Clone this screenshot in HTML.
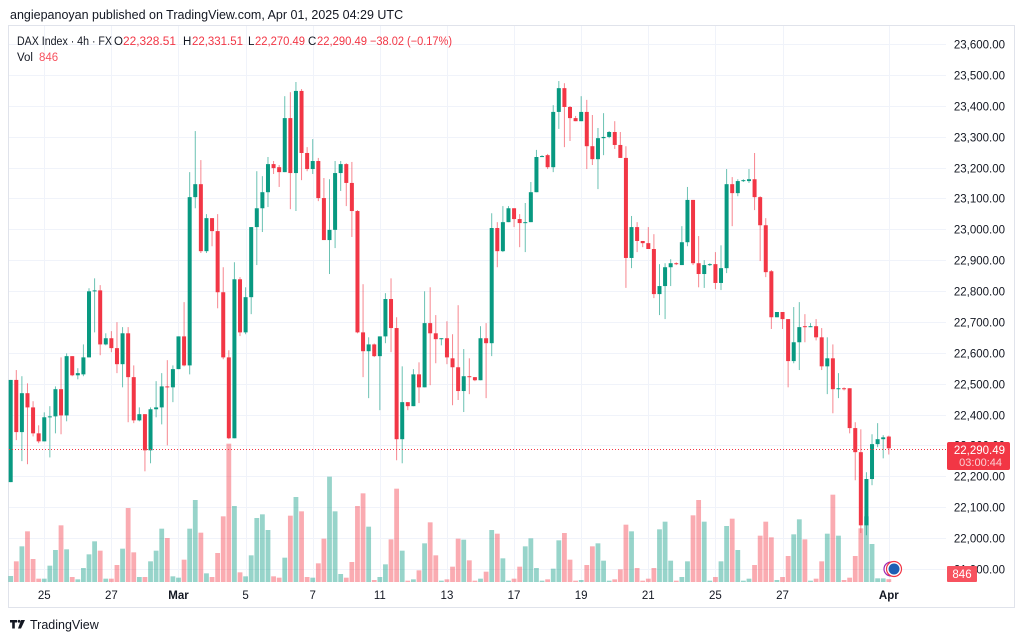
<!DOCTYPE html>
<html><head><meta charset="utf-8"><style>
html,body{margin:0;padding:0;background:#fff;}
svg{display:block;font-family:"Liberation Sans",sans-serif;}
</style></head><body>
<svg id="chart" width="1024" height="641" viewBox="0 0 1024 641" xmlns="http://www.w3.org/2000/svg">
<rect x="0" y="0" width="1024" height="641" fill="#fff"/>
<text x="10" y="19" font-size="12.5" fill="#131722">angiepanoyan published on TradingView.com, Apr 01, 2025 04:29 UTC</text>
<rect x="8.5" y="25.5" width="1006" height="582" fill="none" stroke="#e0e3eb"/>
<g id="grid"></g>
<g id="vols"></g>
<g id="candles"></g>
<line x1="9" y1="449.5" x2="946" y2="449.5" stroke="#f23645" stroke-width="1" stroke-dasharray="1,2"/>
<g id="axis"></g>
<g font-size="11.5">
<text x="17" y="45" fill="#131722" textLength="95" lengthAdjust="spacingAndGlyphs">DAX Index · 4h · FX</text>
<text x="114" y="45" fill="#131722">O</text>
<text x="123" y="45" fill="#f23645" textLength="53" lengthAdjust="spacingAndGlyphs">22,328.51</text>
<text x="183" y="45" fill="#131722">H</text>
<text x="192" y="45" fill="#f23645" textLength="51" lengthAdjust="spacingAndGlyphs">22,331.51</text>
<text x="248" y="45" fill="#131722">L</text>
<text x="255" y="45" fill="#f23645" textLength="50" lengthAdjust="spacingAndGlyphs">22,270.49</text>
<text x="308" y="45" fill="#131722">C</text>
<text x="317" y="45" fill="#f23645" textLength="50" lengthAdjust="spacingAndGlyphs">22,290.49</text>
<text x="370" y="45" fill="#f23645" textLength="82" lengthAdjust="spacingAndGlyphs">−38.02 (−0.17%)</text>
<text x="17" y="61" fill="#131722">Vol</text>
<text x="39" y="61" fill="#f7525f">846</text>
</g>
<g>
<rect x="947" y="442" width="63" height="28" rx="2" fill="#f23645"/>
<text x="1005" y="454" font-size="11.5" fill="#fff" text-anchor="end">22,290.49</text>
<text x="1002" y="466" font-size="11" fill="#fbd0d4" text-anchor="end">03:00:44</text>
</g>
<g>
<rect x="947" y="566" width="30" height="16" rx="1" fill="#f7525f"/>
<text x="962" y="578" font-size="11.5" fill="#fff" text-anchor="middle">846</text>
</g>
<g>
<circle cx="891" cy="569" r="7" fill="#fff" stroke="#9c27b0" stroke-width="1.2"/>
<circle cx="894" cy="569" r="7.5" fill="#fff" stroke="#f23645" stroke-width="1.2"/>
<circle cx="894" cy="569" r="5.5" fill="#1e5fb4"/>
</g>
<g>
<path d="M10 620 h7 v2.5 h-2.2 v6 h-2.6 v-6 h-2.2z" fill="#131722"/>
<circle cx="19" cy="621.3" r="1.4" fill="#131722"/>
<path d="M21 620 h4 l-4 8.5 h-3z" fill="#131722"/>
<text x="30" y="629" font-size="12.5" fill="#131722">TradingView</text>
</g>
</svg>
<script>
const opens=[22181,22512,22343,22469,22423,22339,22313,22391,22394,22482,22397,22589,22527,22530,22585,22799,22802,22627,22647,22615,22563,22663,22521,22381,22401,22284,22417,22423,22491,22488,22547,22653,22559,23104,23146,22929,23036,22994,22796,22585,22323,22838,22666,22780,23007,23068,23120,23211,23201,23185,23360,23182,23448,23247,23195,23221,23101,22965,22998,23182,23211,23150,23059,22666,22605,22627,22589,22653,22774,22680,22320,22440,22427,22530,22488,22696,22663,22644,22647,22582,22553,22476,22524,22521,22511,22647,22631,23004,22929,23023,23068,23033,23020,23023,23120,23234,23240,23201,23380,23457,23396,23360,23350,23380,23269,23227,23295,23299,23315,23273,23231,22907,23007,22962,22955,22936,22790,22816,22877,22890,22884,22958,23095,22890,22855,22884,22887,22826,22874,23146,23117,23156,23156,23162,23104,23013,22864,22715,22732,22709,22573,22634,22686,22683,22686,22650,22556,22582,22482,22485,22485,22356,22278,22041,22191,22304,22320,22328.51];
const highs=[22512,22544,22524,22501,22443,22365,22407,22427,22491,22585,22598,22589,22550,22627,22809,22841,22819,22663,22670,22699,22683,22683,22559,22423,22401,22423,22508,22534,22576,22559,22653,22764,23185,23318,23224,23049,23036,23049,22877,22608,22893,22845,22812,23007,23188,23172,23234,23221,23208,23431,23444,23477,23454,23266,23292,23231,23166,23162,23221,23221,23214,23218,23062,22822,22650,22630,22653,22793,22841,22715,22556,22440,22547,22569,22799,22812,22722,22647,22702,22660,22754,22612,22582,22521,22686,22696,23052,23023,23075,23075,23068,23049,23085,23153,23257,23240,23244,23402,23480,23473,23399,23367,23431,23419,23370,23328,23376,23318,23350,23315,23269,23043,23023,22962,23007,22984,22887,22890,22903,22893,23010,23137,23095,22978,22900,22890,22926,22948,23195,23169,23162,23162,23195,23247,23107,23036,22868,22732,22732,22709,22748,22764,22725,22696,22709,22680,22650,22627,22534,22488,22485,22375,22352,22213,22336,22372,22333,22331.51];
const lows=[22181,22317,22249,22239,22329,22307,22313,22261,22339,22336,22378,22524,22514,22524,22585,22666,22592,22624,22602,22534,22488,22375,22372,22378,22216,22242,22391,22368,22300,22440,22547,22556,22530,23068,22923,22923,22945,22744,22579,22320,22323,22654,22660,22725,22884,22991,23072,23179,23137,23185,23065,23059,23159,23188,23179,23091,22965,22855,22939,23124,23075,22975,22663,22521,22453,22586,22414,22631,22602,22252,22242,22414,22427,22437,22488,22495,22566,22624,22563,22430,22447,22408,22466,22508,22511,22453,22589,22877,22926,23023,23007,22942,22926,23023,23120,23234,23195,23185,23325,23266,23286,23350,23350,23195,23208,23130,23240,23295,23260,23231,22810,22874,22926,22942,22936,22777,22722,22709,22816,22884,22884,22945,22884,22812,22810,22881,22806,22803,22858,23010,23107,23153,23150,23062,22897,22845,22677,22715,22677,22488,22566,22544,22634,22683,22640,22544,22466,22404,22453,22478,22339,22187,22016,22009,22171,22294,22258,22270.49];
const closes=[22512,22343,22469,22423,22339,22313,22391,22394,22482,22397,22589,22527,22534,22585,22799,22802,22627,22647,22615,22563,22663,22521,22381,22401,22284,22417,22423,22491,22488,22547,22653,22559,23104,23146,22929,23036,22994,22796,22585,22323,22838,22666,22780,23007,23068,23120,23211,23198,23185,23360,23182,23448,23247,23195,23221,23101,22965,22998,23182,23211,23150,23059,22666,22605,22627,22589,22653,22774,22680,22320,22440,22427,22530,22488,22696,22663,22644,22647,22585,22553,22476,22524,22521,22511,22647,22631,23004,22929,23023,23068,23033,23020,23023,23120,23234,23237,23201,23380,23457,23396,23360,23350,23380,23269,23227,23295,23299,23315,23273,23231,22907,23007,22962,22955,22936,22790,22816,22877,22890,22887,22958,23095,22890,22855,22884,22887,22826,22874,23146,23117,23156,23159,23162,23104,23013,22861,22715,22732,22709,22573,22634,22683,22683,22686,22650,22556,22582,22482,22485,22482,22356,22278,22041,22191,22304,22320,22326,22290.49];
const volumes=[1800,6200,10700,15200,6900,1000,1000,4900,9600,17000,9800,1500,800,4200,8300,12200,9400,1000,1000,5100,10000,22200,8900,1500,1500,6200,9400,16000,13200,1700,1300,6700,16000,24600,14800,2600,1500,8700,19700,41500,22800,2900,1700,8000,19200,20300,15600,1700,1300,7300,19900,25500,21200,1500,1300,5600,13000,31600,21200,2400,1300,6000,22800,26600,16600,600,1500,5300,12800,28000,9400,400,800,3500,11600,17900,8000,400,800,4600,13000,12700,6500,400,1000,3100,15600,14500,7100,400,1000,4600,10700,13100,4200,400,800,4000,12500,14700,6700,400,600,5100,10700,11600,6400,400,800,3800,17200,15200,4200,400,1000,4200,15800,18100,6400,400,1500,6200,20000,24600,18100,400,1500,6200,16800,19000,9600,400,1000,5100,13900,18100,13400,600,1500,7800,14300,18800,12800,400,1000,6200,14500,26200,13900,600,1300,7800,16100,19700,11400,1100,1100,846];
const priceTicks=[23600,23500,23400,23300,23200,23100,23000,22900,22800,22700,22600,22500,22400,22300,22200,22100,22000,21900];
const dateLabels=["25","27","Mar","5","7","11","13","17","19","21","25","27","Apr"];
const dateCandleIdx=[6,18,30,42,54,66,78,90,102,114,126,138,157];

const NS="http://www.w3.org/2000/svg";
function yScale(p){return 44+(23600-p)*0.30875;}
function xScale(i){return 10.7+i*5.593;}
function vScale(v){return v/300;}
const VBASE=582;
function mk(tag,attrs,parent){const e=document.createElementNS(NS,tag);for(const k in attrs)e.setAttribute(k,attrs[k]);parent.appendChild(e);return e;}

const grid=document.getElementById('grid');
const axis=document.getElementById('axis');
priceTicks.forEach(function(p){
  const y=Math.round(yScale(p))+0.5;
  const gl=mk('line',{x1:9,x2:946,y1:y,y2:y,stroke:'#f0f3fa','stroke-width':1},grid);
  
  
  const t=mk('text',{x:1005,y:y+4,'font-size':11.5,fill:'#131722','text-anchor':'end'},axis);
  
  
  t.textContent=p.toLocaleString('en-US',{minimumFractionDigits:2,maximumFractionDigits:2});
});
dateLabels.forEach(function(d,k){
  const x=xScale(dateCandleIdx[k]);
  const gl=mk('line',{x1:Math.round(x)+0.5,x2:Math.round(x)+0.5,y1:26,y2:583,stroke:'#f0f3fa','stroke-width':1},grid);
  
  
  const bold=(d==="Mar"||d==="Apr");
  const t=mk('text',{x:x,y:599,'font-size':11.5,fill:'#131722','text-anchor':'middle','font-weight':bold?'bold':'normal'},axis);
  
  
  t.textContent=d;
});

const vg=document.getElementById('vols');
const cg=document.getElementById('candles');
for(let i=0;i<opens.length;i++){
  const up=closes[i]>=opens[i];
  const col=up?'#089981':'#f23645';
  const x=xScale(i);
  const vh=vScale(volumes[i]);
  const vb=mk('rect',{x:x-2.4,y:VBASE-vh,width:4.8,height:Math.max(vh,1),fill:up?'rgba(8,153,129,0.42)':'rgba(242,54,69,0.42)'},vg);
  
  
  const w=mk('line',{x1:x,x2:x,y1:yScale(highs[i]),y2:yScale(lows[i]),stroke:col,'stroke-width':1,'stroke-opacity':0.6},cg);
  
  
  const top=yScale(Math.max(opens[i],closes[i]));
  const bot=yScale(Math.min(opens[i],closes[i]));
  const b=mk('rect',{x:x-2,y:top,width:4,height:Math.max(bot-top,1),fill:col},cg);
  
  
}
</script>
</body></html>
